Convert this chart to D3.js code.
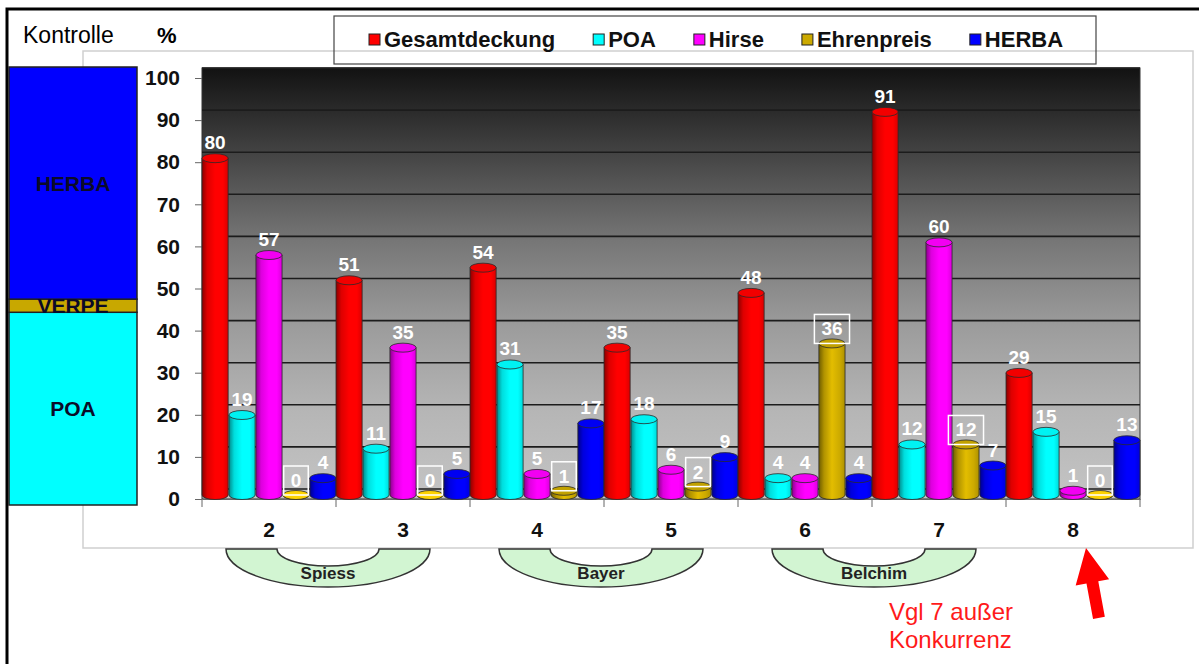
<!DOCTYPE html>
<html>
<head>
<meta charset="utf-8">
<script src="https://cdn.jsdelivr.net/npm/d3@7"></script>
<style>
  body { margin: 0; background: #fff; overflow: hidden; }
  text { font-family: "Liberation Sans", Arial, sans-serif; }
</style>
</head>
<body>
<div id="chart"></div>
<script>
// Versuchsglieder und Deckungsgrade (%)
const categories = ["2", "3", "4", "5", "6", "7", "8"];
const seriesNames = ["Gesamtdeckung", "POA", "Hirse", "Ehrenpreis", "HERBA"];
const gesamtdeckung = [80, 51, 54, 35, 48, 91, 29];
const poa = [19, 11, 31, 18, 4, 12, 15];
const hirse = [57, 35, 5, 6, 4, 60, 1];
const ehrenpreis = [0, 0, 1, 2, 36, 12, 0];
const herba = [4, 5, 17, 9, 4, 7, 13];
const yTicks = [0, 10, 20, 30, 40, 50, 60, 70, 80, 90, 100];

// Kontrolle (gestapelt, von unten)
const kontrolleNames = ["POA", "VERPE", "HERBA"];
const kontrolleValues = [44, 3, 53];

// Firmen unter den Gruppen
const firms = ["Spiess", "Bayer", "Belchim"];
const firmGroups = [["2", "3"], ["4", "5"], ["6", "7"]];

const noteLines = ["Vgl 7 außer", "Konkurrenz"];

const seriesValues = [gesamtdeckung, poa, hirse, ehrenpreis, herba];
const boxedSeries = ["Ehrenpreis"];
const colors = ["#ff0000", "#00ffff", "#ff00ff", "#ccaa00", "#0000ff"];
const kontrolleColors = { POA: "#00ffff", VERPE: "#c8a800", HERBA: "#0000ff" };

const margin = { top: 78, right: 59, bottom: 165, left: 202 };
const width = 1199 - margin.left - margin.right;
const height = 664 - margin.top - margin.bottom;
const depth = 10;   // back wall offset
const lift = 4;     // cylinder offset

const root = d3.select("#chart")
    .append("svg")
    .attr("width", 1199)
    .attr("height", 664);

const defs = root.append("defs");

// outer black frame
root.append("rect")
    .attr("x", 7).attr("y", 9)
    .attr("width", 1300).attr("height", 800)
    .attr("fill", "none")
    .attr("stroke", "#000")
    .attr("stroke-width", 3);

// light chart frame
root.append("rect")
    .attr("x", 83).attr("y", 51)
    .attr("width", 1110).attr("height", 497)
    .attr("fill", "none")
    .attr("stroke", "#cfcfcf")
    .attr("stroke-width", 1.5);

// Kontrolle bar
const kY = d3.scaleLinear().domain([0, 100]).range([505, 67]);
let acc = 0;
const kontrolle = kontrolleNames.map((n, i) => {
    const d = { name: n, y0: acc, y1: acc + kontrolleValues[i] };
    acc += kontrolleValues[i];
    return d;
});
root.selectAll(".kontrolle")
    .data(kontrolle)
    .enter().append("rect")
    .attr("x", 9).attr("width", 128)
    .attr("y", d => kY(d.y1))
    .attr("height", d => kY(d.y0) - kY(d.y1))
    .attr("fill", d => kontrolleColors[d.name])
    .attr("stroke", "#222")
    .attr("stroke-width", 1.5);
root.selectAll(".kontrolle-label")
    .data(kontrolle)
    .enter().append("text")
    .attr("x", 73)
    .attr("y", d => kY((d.y0 + d.y1) / 2))
    .attr("dy", "0.36em")
    .attr("text-anchor", "middle")
    .style("font-size", "21px")
    .style("font-weight", "bold")
    .style("fill", "#0b0b28")
    .text(d => d.name);

root.append("text").attr("x", 23).attr("y", 43)
    .style("font-size", "23px").text("Kontrolle");
root.append("text").attr("x", 157).attr("y", 43)
    .style("font-size", "22px").style("font-weight", "bold").text("%");

// legend
root.append("rect")
    .attr("x", 334).attr("y", 16)
    .attr("width", 762).attr("height", 48)
    .attr("fill", "none")
    .attr("stroke", "#444")
    .attr("stroke-width", 1.2);
let lx = 369;
seriesNames.forEach((n, i) => {
    root.append("rect")
        .attr("x", lx).attr("y", 34)
        .attr("width", 11).attr("height", 11)
        .attr("fill", colors[i])
        .attr("stroke", "#222");
    const t = root.append("text")
        .attr("x", lx + 15).attr("y", 47)
        .style("font-size", "22px")
        .style("font-weight", "bold")
        .style("fill", "#111")
        .text(n);
    lx += 15 + t.node().getComputedTextLength() + 38;
});

const svg = root.append("g")
    .attr("transform", `translate(${margin.left},${margin.top})`);

const x = d3.scaleBand().domain(categories).range([0, width]).padding(0);
const xSub = d3.scaleBand().domain(seriesNames).range([0, x.bandwidth()]).paddingInner(0.03);
const y = d3.scaleLinear().domain([0, 100]).range([height, 0]);

// back wall gradient
const wall = defs.append("linearGradient")
    .attr("id", "wall").attr("x1", 0).attr("y1", 0).attr("x2", 0).attr("y2", 1);
[[0, "#121212"], [0.2, "#444"], [0.4, "#767676"], [0.6, "#9c9c9c"], [0.8, "#b6b6b6"], [1, "#c4c4c4"]]
    .forEach(s => wall.append("stop").attr("offset", s[0]).attr("stop-color", s[1]));

svg.append("rect")
    .attr("x", 0).attr("y", y(100) - depth)
    .attr("width", width).attr("height", height - y(100) + depth)
    .attr("fill", "url(#wall)")
    .attr("stroke", "#333")
    .attr("stroke-width", 1);

// gridlines on the back wall
svg.selectAll(".grid")
    .data(yTicks)
    .enter().append("line")
    .attr("x1", 0).attr("x2", width)
    .attr("y1", d => y(d) - depth).attr("y2", d => y(d) - depth)
    .attr("stroke", "#1c1c1c")
    .attr("stroke-width", 1.6);

// axes
const yAxis = svg.append("g")
    .call(d3.axisLeft(y).tickValues(yTicks).tickSize(7).tickPadding(15));
yAxis.select(".domain").remove();
yAxis.selectAll("line").attr("stroke", "#666");
yAxis.selectAll("text")
    .style("font-size", "21px")
    .style("font-weight", "bold")
    .style("fill", "#111")
    .style("font-family", "'Liberation Sans', Arial, sans-serif");

const xAxis = svg.append("g")
    .attr("transform", `translate(0,${height})`)
    .call(d3.axisBottom(x).tickSize(0).tickSizeOuter(0).tickPadding(23));
xAxis.select(".domain").attr("stroke", "#666");
xAxis.selectAll("text")
    .style("font-size", "21px")
    .style("font-weight", "bold")
    .style("fill", "#111")
    .style("font-family", "'Liberation Sans', Arial, sans-serif");
svg.selectAll(".xtick")
    .data(categories.map(c => x(c)).concat([width]))
    .enter().append("line")
    .attr("x1", d => d).attr("x2", d => d)
    .attr("y1", height).attr("y2", height + 8)
    .attr("stroke", "#666");

// cylinder gradients
colors.forEach((c, i) => {
    const col = d3.color(c);
    const g = defs.append("linearGradient")
        .attr("id", `cyl${i}`).attr("x1", 0).attr("y1", 0).attr("x2", 1).attr("y2", 0);
    [[0, col.darker(1.7)], [0.2, col.darker(0.4)], [0.5, col.brighter(0.3)], [0.8, col], [1, col.darker(0.45)]]
        .forEach(s => g.append("stop").attr("offset", s[0]).attr("stop-color", s[1].formatHex()));
});

const bars = [];
categories.forEach((cat, ci) => {
    seriesNames.forEach((s, si) => {
        bars.push({ cat, series: s, si, value: seriesValues[si][ci] });
    });
});

const bw = xSub.bandwidth();
const rx = bw / 2, ry = 4.5;

const cyl = svg.selectAll(".cyl")
    .data(bars)
    .enter().append("g")
    .attr("class", "cyl");

cyl.append("path")
    .attr("d", d => {
        const x0 = x(d.cat) + xSub(d.series), x1 = x0 + bw;
        const top = y(d.value) - lift, bot = y(0) - lift;
        return `M${x0},${top}L${x0},${bot}A${rx},${ry} 0 0 0 ${x1},${bot}L${x1},${top}Z`;
    })
    .attr("fill", d => `url(#cyl${d.si})`)
    .attr("stroke", "#2a2a2a")
    .attr("stroke-width", 0.8);

cyl.append("ellipse")
    .attr("cx", d => x(d.cat) + xSub(d.series) + rx)
    .attr("cy", d => y(d.value) - lift)
    .attr("rx", rx).attr("ry", ry)
    .attr("fill", d => d.value === 0 ? d3.color(colors[d.si]).brighter(0.6).formatHex() : d3.color(colors[d.si]).darker(0.15).formatHex())
    .attr("stroke", "#2a2a2a")
    .attr("stroke-width", 0.8);

// value labels
const labels = svg.selectAll(".val")
    .data(bars)
    .enter().append("text")
    .attr("x", d => x(d.cat) + xSub(d.series) + rx)
    .attr("y", d => boxedSeries.includes(d.series) ? y(d.value) - lift - 8 : y(d.value) - 13)
    .attr("text-anchor", "middle")
    .style("font-size", "19px")
    .style("font-weight", "bold")
    .style("fill", "#fff")
    .text(d => d.value);

labels.filter(d => boxedSeries.includes(d.series)).each(function(d) {
    const w = this.getComputedTextLength() + 14;
    const cx = x(d.cat) + xSub(d.series) + rx;
    const bottom = y(d.value) - lift;
    svg.insert("rect", function() { return labels.node(); })
        .attr("x", cx - w / 2).attr("y", bottom - 29)
        .attr("width", w).attr("height", 29)
        .attr("fill", "none")
        .attr("stroke", "#fff")
        .attr("stroke-width", 1.5);
});

// firm bowls
const bowlTop = height + 50, R = 102, RY = 38, r = 51, ry2 = 17;
const bowls = svg.selectAll(".bowl")
    .data(firms.map((f, i) => ({ name: f, cx: x(firmGroups[i][1]) - 8 + i * 5 })))
    .enter().append("g");
bowls.append("path")
    .attr("d", d => `M${d.cx - R},${bowlTop}A${R},${RY} 0 0 0 ${d.cx + R},${bowlTop}` +
        `L${d.cx + r},${bowlTop}A${r},${ry2} 0 0 1 ${d.cx - r},${bowlTop}Z`)
    .attr("fill", "#d2f5d2")
    .attr("stroke", "#333")
    .attr("stroke-width", 1.5);
bowls.append("text")
    .attr("x", d => d.cx)
    .attr("y", bowlTop + 30)
    .attr("text-anchor", "middle")
    .style("font-size", "17px")
    .style("font-weight", "bold")
    .style("fill", "#222")
    .text(d => d.name);

// note + arrow
root.selectAll(".note")
    .data(noteLines)
    .enter().append("text")
    .attr("x", 889)
    .attr("y", (d, i) => 620 + i * 28)
    .style("font-size", "24px")
    .style("fill", "#ff1a1a")
    .text(d => d);

root.append("path")
    .attr("d", "M0,0L17,35L6,35L6,71L-6,71L-6,35L-17,35Z")
    .attr("transform", "translate(1086,548) rotate(-10.5)")
    .attr("fill", "#ff0000");
</script>
</body>
</html>
